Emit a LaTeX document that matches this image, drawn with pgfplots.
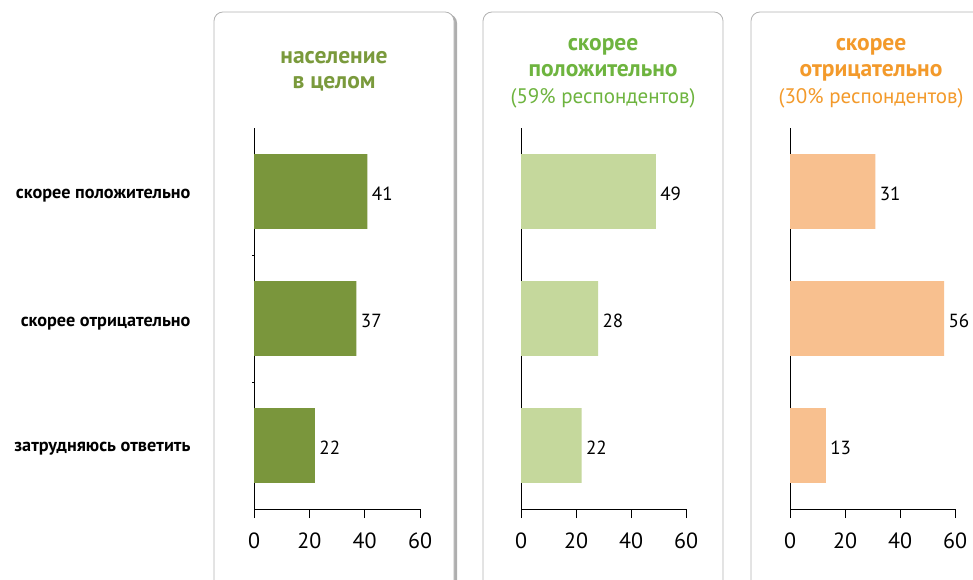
\documentclass[border=0pt]{standalone}
\usepackage{fontspec}
\setmainfont{PT Sans}
\usepackage{pgfplots}
\pgfplotsset{compat=1.18}
\usetikzlibrary{shadows}
\definecolor{dgreen}{HTML}{7A963C}
\definecolor{lgreen}{HTML}{C5D89C}
\definecolor{obar}{HTML}{F8C08F}
\definecolor{tgreen}{HTML}{6EB43F}
\definecolor{torange}{HTML}{F39A2B}
\definecolor{tdgreen}{HTML}{7A9A3C}
\pgfplotsset{
  panel/.style={
    xbar, scale only axis, height=381pt,
    anchor=south west,
    xmin=0, xmax=60, ymin=-0.5, ymax=2.5,
    axis x line*=bottom, axis y line*=left,
    axis line style={-, black, line width=0.8pt},
    xtick={0,20,40,60}, tick align=outside, major tick length=9pt,
    xtick style={black, line width=0.8pt},
    ytick=\empty,
    /pgf/number format/assume math mode=true,
    xticklabel style={font=\fontsize{22}{24}\selectfont, yshift=-11pt},
    bar width=0.59, bar shift=0pt,
    nodes near coords,
    nodes near coords style={font=\fontsize{19}{20}\selectfont, anchor=west, xshift=1pt, yshift=-2pt},
    clip=false,
  }
}
\begin{document}
\begin{tikzpicture}[x=1pt,y=1pt]
\path[use as bounding box] (0,0) rectangle (973,580);
\begin{scope}
\clip (0,0) rectangle (973,580);
\draw[black!30, line width=0.8pt, fill=white, rounded corners=9pt,
  drop shadow={shadow xshift=3pt, shadow yshift=-2pt, opacity=0.45, fill=black!70}]
  (214,-20) rectangle (454,568);
\draw[black!30, line width=0.8pt, fill=white, rounded corners=9pt] (483,-20) rectangle (723,568);
\draw[black!30, line width=0.8pt, fill=white, rounded corners=9pt] (751,-20) rectangle (1000,568);
\end{scope}

% category labels
\begin{scope}[every node/.style={anchor=east, font=\bfseries\fontsize{18.2}{20}\selectfont}]
\node at (194,384) {скорее положительно};
\node at (194,256) {скорее отрицательно};
\node at (194,131) {затрудняюсь ответить};
\end{scope}

% titles
\node[align=center, text=tdgreen, font=\bfseries\fontsize{23.5}{25}\selectfont] at (334,509)
  {население\\в целом};
\node[align=center, text=tgreen, font=\fontsize{21}{26.5}\selectfont] at (603,507)
  {\textbf{\fontsize{23.5}{26.5}\selectfont скорее}\\\textbf{\fontsize{23.5}{26.5}\selectfont положительно}\\(59\% респондентов)};
\node[align=center, text=torange, font=\fontsize{21}{26.5}\selectfont] at (871,507)
  {\textbf{\fontsize{23.5}{26.5}\selectfont скорее}\\\textbf{\fontsize{23.5}{26.5}\selectfont отрицательно}\\(30\% респондентов)};

\begin{axis}[panel, width=166pt, at={(254pt,71pt)}]
\addplot[fill=dgreen, draw=none] coordinates {(41,2) (37,1) (22,0)};
\draw[black, line width=0.6pt] (axis cs:0,0.5) -- ++(-2pt,0pt);
\draw[black, line width=0.6pt] (axis cs:0,1.5) -- ++(-2pt,0pt);
\end{axis}
\begin{axis}[panel, width=165pt, at={(521pt,71pt)}]
\addplot[fill=lgreen, draw=none] coordinates {(49,2) (28,1) (22,0)};
\end{axis}
\begin{axis}[panel, width=165pt, at={(790pt,71pt)}]
\addplot[fill=obar, draw=none] coordinates {(31,2) (56,1) (13,0)};
\end{axis}
\end{tikzpicture}
\end{document}
